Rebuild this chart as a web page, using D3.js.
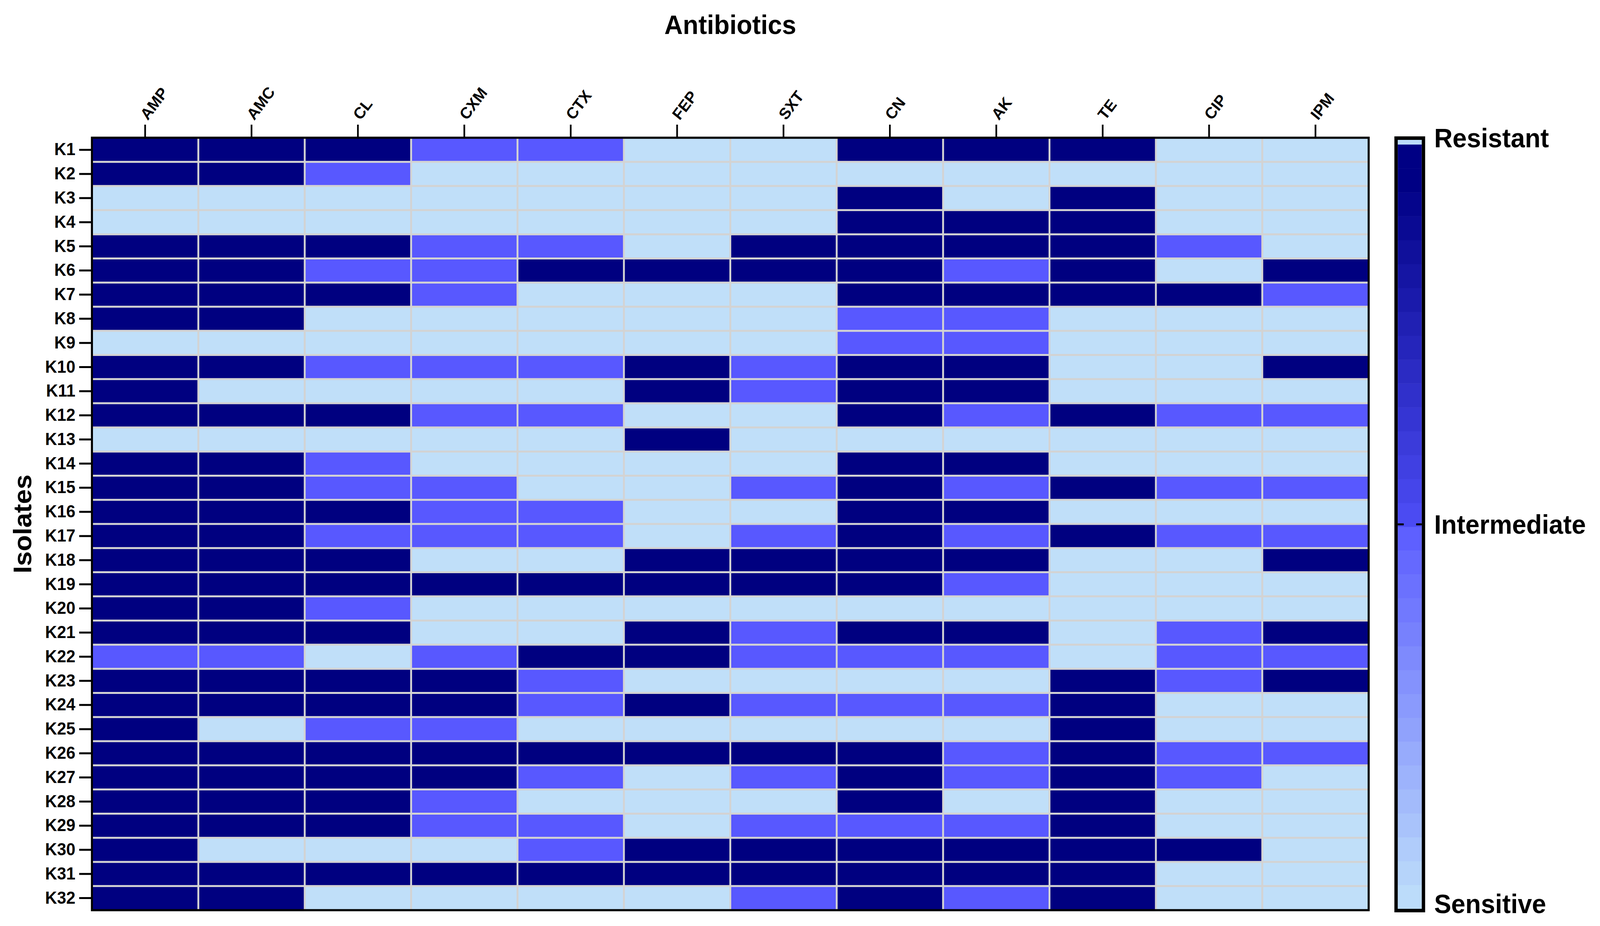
<!DOCTYPE html>
<html>
<head>
<meta charset="utf-8">
<script src="https://cdn.jsdelivr.net/npm/d3@7"></script>
<style>
html,body{margin:0;padding:0;background:#fff;width:100%;height:100%;overflow:hidden;}
svg{display:block;font-family:"Liberation Sans",Arial,Helvetica,sans-serif;}
</style>
</head>
<body>
<svg id="chart" viewBox="0 0 4264 2370" preserveAspectRatio="none" style="width:100vw;height:100vh;"></svg>
<script>
// ---------- DATA ----------
const antibiotics = ["AMP","AMC","CL","CXM","CTX","FEP","SXT","CN","AK","TE","CIP","IPM"];
const isolates = ["K1","K2","K3","K4","K5","K6","K7","K8","K9","K10","K11","K12","K13","K14","K15","K16",
                  "K17","K18","K19","K20","K21","K22","K23","K24","K25","K26","K27","K28","K29","K30","K31","K32"];
// R = resistant, I = intermediate, S = sensitive ; one code per isolate K1..K32
const AMP = "RRSSRRRRSRRRSRRRRRRRRIRRRRRRRRRR".split("");
const AMC = "RRSSRRRRSRSRSRRRRRRRRIRRSRRRRSRR".split("");
const CL  = "RISSRIRSSISRSIIRIRRIRSRRIRRRRSRS".split("");
const CXM = "ISSSIIISSISISSIIISRSSIRRIRRIISRS".split("");
const CTX = "ISSSIRSSSISISSSIISRSSRIISRISIIRS".split("");
const FEP = "SSSSSRSSSRRSRSSSSRRSRRSRSRSSSRRS".split("");
const SXT = "SSSSRRSSSIISSSISIRRSIISISRISIRRI".split("");
const CN  = "RSRRRRRIIRRRSRRRRRRSRISISRRRIRRR".split("");
const AK  = "RSSRRIRIIRRISRIRIRISRISISIISIRRI".split("");
const TE  = "RSRRRRRSSSSRSSRSRSSSSSRRRRRRRRRR".split("");
const CIP = "SSSSISRSSSSISSISISSSIIISSIISSRSS".split("");
const IPM = "SSSSSRISSRSISSISIRSSRIRSSISSSSSS".split("");
const columns = {AMP, AMC, CL, CXM, CTX, FEP, SXT, CN, AK, TE, CIP, IPM};

const levelCodes  = ["S","I","R"];
const levelLabels = ["Sensitive","Intermediate","Resistant"];
const levelColors = ["#c0dff9","#5858ff","#000080"];

// ---------- LAYOUT ----------
const svg = d3.select("#chart");
const pL = 245, pR = 3647.5, pT = 352.5, pB = 2329.5;

const x = d3.scaleBand().domain(antibiotics).range([pL, pR]).padding(0);
const y = d3.scaleBand().domain(isolates).range([pT, pB]).padding(0);
const color = d3.scaleOrdinal().domain(levelCodes).range(levelColors);

const cells = [];
antibiotics.forEach(a => columns[a].forEach((v, i) => cells.push({a, iso: isolates[i], v})));

svg.append("g").selectAll("rect").data(cells).join("rect")
  .attr("x", d => x(d.a))
  .attr("y", d => y(d.iso))
  .attr("width", x.bandwidth())
  .attr("height", y.bandwidth())
  .attr("fill", d => color(d.v));

// grid lines
const grid = svg.append("g").attr("stroke", "#d3d3d3").attr("stroke-width", 5);
grid.selectAll("line.v").data(antibiotics.slice(1)).join("line")
  .attr("class", "v")
  .attr("x1", d => x(d)).attr("x2", d => x(d))
  .attr("y1", pT).attr("y2", pB);
grid.selectAll("line.h").data(isolates.slice(1)).join("line")
  .attr("class", "h")
  .attr("x1", pL).attr("x2", pR)
  .attr("y1", d => y(d)).attr("y2", d => y(d));

// border
svg.append("rect")
  .attr("x", pL).attr("y", pT)
  .attr("width", pR - pL).attr("height", pB - pT)
  .attr("fill", "none").attr("stroke", "#000").attr("stroke-width", 5.5);

// top axis
const xAxis = svg.append("g")
  .attr("transform", `translate(0,${pT})`)
  .call(d3.axisTop(x).tickSize(33.5).tickPadding(10));
xAxis.select(".domain").remove();
xAxis.selectAll(".tick line").attr("stroke", "#000").attr("stroke-width", 4.5);
xAxis.selectAll(".tick text")
  .attr("x", 0).attr("y", 0).attr("dy", 0)
  .attr("text-anchor", "start")
  .attr("transform", "translate(7,-43) rotate(-52)")
  .attr("font-size", 41).attr("font-weight", "bold")
  .attr("font-family", "'Liberation Sans', Arial, sans-serif")
  .attr("fill", "#000");

// left axis
const yAxis = svg.append("g")
  .attr("transform", `translate(${pL},0)`)
  .call(d3.axisLeft(y).tickSize(34).tickPadding(10));
yAxis.select(".domain").remove();
yAxis.selectAll(".tick line").attr("stroke", "#000").attr("stroke-width", 5);
yAxis.selectAll(".tick text")
  .attr("font-size", 44).attr("font-weight", "bold")
  .attr("font-family", "'Liberation Sans', Arial, sans-serif")
  .attr("fill", "#000");

// axis titles
svg.append("text")
  .attr("x", (pL + pR) / 2).attr("y", 87)
  .attr("text-anchor", "middle")
  .attr("font-size", 68).attr("font-weight", "bold")
  .text("Antibiotics");
svg.append("text")
  .attr("transform", `translate(83,${(pT + pB) / 2}) rotate(-90)`)
  .attr("text-anchor", "middle")
  .attr("font-size", 68).attr("font-weight", "bold")
  .text("Isolates");

// ---------- COLOR BAR ----------
const cbX0 = 3720.5, cbW = 73, cbTop = 353.5, cbBottom = 2330.5;
const innerX = 3725, innerW = 64, innerTop = 358, innerBottom = 2326, stripBottom = 370;
const cbScale = d3.scaleLinear().domain([0, 2]).range([cbBottom, cbTop]);
const gradScale = d3.scaleLinear().domain([0, 2]).range([innerBottom, stripBottom]);
const lowInterp = d3.interpolateRgb("#bcdcfa", "#5858ff");
const highInterp = d3.interpolateRgb("#5050fa", "#000084");
const stepColor = v => v < 1 ? lowInterp(v) : highInterp(Math.min(1, (v - 1) * 1.07));
const steps = d3.range(32).map(i => ({v0: i / 16, v1: (i + 1) / 16}));

const cb = svg.append("g");
cb.append("rect").attr("x", innerX).attr("y", innerTop).attr("width", innerW)
  .attr("height", stripBottom - innerTop).attr("fill", "#bcdcfa");
cb.selectAll("rect.step").data(steps).join("rect")
  .attr("class", "step")
  .attr("x", innerX).attr("width", innerW)
  .attr("y", d => gradScale(d.v1))
  .attr("height", d => gradScale(d.v0) - gradScale(d.v1) + 0.5)
  .attr("fill", d => stepColor(d.v0 < 1 ? d.v0 : d.v1));
cb.append("rect")
  .attr("x", cbX0).attr("y", cbTop).attr("width", cbW).attr("height", cbBottom - cbTop)
  .attr("fill", "none").attr("stroke", "#000").attr("stroke-width", 9);
// intermediate ticks (inside both edges)
cb.selectAll("line.tk").data([[innerX, innerX + 16], [innerX + innerW - 15, innerX + innerW]]).join("line")
  .attr("class", "tk")
  .attr("x1", d => d[0]).attr("x2", d => d[1])
  .attr("y1", cbScale(1)).attr("y2", cbScale(1))
  .attr("stroke", "#000").attr("stroke-width", 5);

const labelDy = ["0.1em", "0.35em", "0.35em"];
cb.selectAll("text.lv").data(levelLabels).join("text")
  .attr("class", "lv")
  .attr("x", 3822)
  .attr("y", (d, i) => cbScale(i))
  .attr("dy", (d, i) => labelDy[i])
  .attr("font-size", 68).attr("font-weight", "bold")
  .text(d => d);
</script>
</body>
</html>
